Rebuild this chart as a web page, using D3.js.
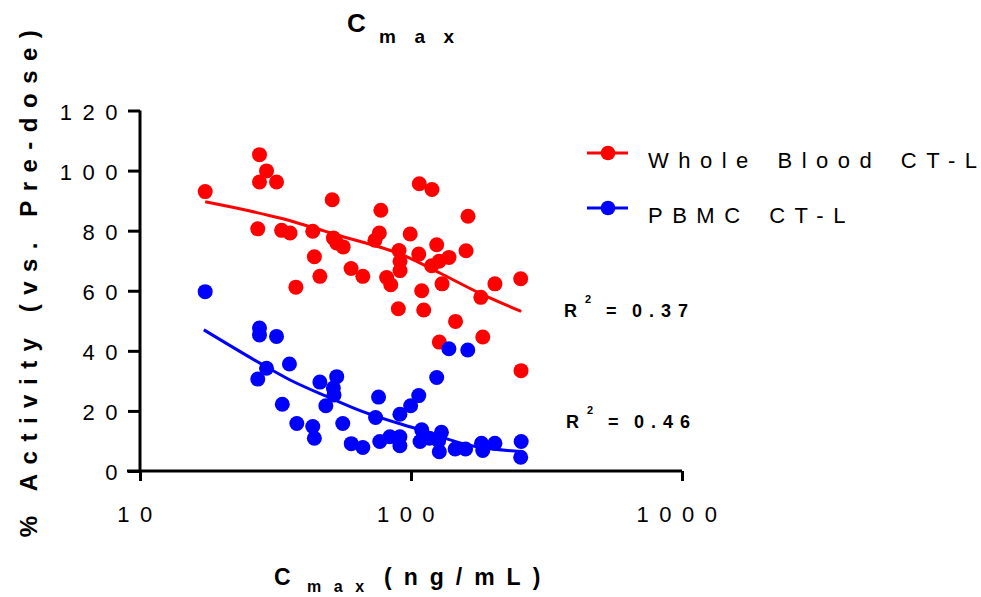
<!DOCTYPE html>
<html>
<head>
<meta charset="utf-8">
<script src="https://cdn.jsdelivr.net/npm/d3@7"></script>
<style>
  body { margin: 0; background: #fff; }
  text { font-family: "Liberation Sans", Arial, sans-serif; }
</style>
</head>
<body>
<script>
//=========================== data ============================================

var wbX = [17.4, 27.6, 29.3, 27.6, 31.9, 51.2, 27.2, 33.3, 35.8, 43.4, 51.7, 53.2, 56.2, 44.0, 60.1, 46.1,
           37.6, 107.3, 119.5, 77.4, 162.3, 76.4, 99.3, 73.6, 124.4, 159.6, 90.3, 106.8, 138.1, 126.9, 119.2,
           91.1, 91.1, 66.4, 81.3, 84.2, 130.2, 109.5, 204, 254, 181, 89.8, 111.4, 146, 184, 127.2, 254.7];
var wbY = [93.0, 105.3, 99.9, 96.2, 96.2, 90.3, 80.6, 80.1, 79.2, 79.8, 77.6, 75.9, 74.6, 71.3, 67.4, 64.8,
           61.2, 95.6, 93.7, 86.8, 84.8, 79.2, 78.9, 76.8, 75.3, 73.3, 73.4, 72.2, 71.1, 69.8, 68.3,
           69.8, 66.7, 64.8, 64.4, 62.0, 62.3, 60.0, 62.3, 64.0, 57.8, 54.0, 53.6, 49.8, 44.6, 42.9, 33.4];

var pbmcX = [17.4, 27.6, 27.6, 31.9, 29.3, 35.6, 27.2, 46.1, 53.2, 51.7, 52, 48.5, 33.5, 37.9, 43.4, 44,
             56, 60.2, 66.4, 75.9, 74, 76.7, 83.6, 91, 91, 91, 99.7, 106.8, 124.4, 109.5, 108, 117,
             129.5, 126.5, 127.2, 145.5, 159, 182, 184, 204, 255, 254, 138, 162];
var pbmcY = [59.7, 47.6, 45.3, 44.8, 34.2, 35.6, 30.6, 29.6, 31.4, 27.6, 25.3, 21.7, 22.2, 15.8, 14.8, 10.9,
             15.8, 9.1, 7.8, 24.6, 17.8, 9.8, 11.4, 11.4, 8.4, 18.9, 21.7, 25.1, 31.1, 13.7, 9.8, 10.9,
             12.9, 10.1, 6.4, 7.3, 7.3, 9.2, 6.8, 9.2, 9.8, 4.6, 40.7, 40.3];

// fitted curves
var wbFitX = [17.4, 32.8, 54.7, 96.2, 127.8, 179, 255];
var wbFitY = [89.6, 84.2, 78.3, 71.4, 65.9, 59.2, 53.1];
var pbmcFitX = [17.2, 27.7, 35.8, 48.9, 64.9, 108, 169, 255];
var pbmcFitY = [47.0, 35.9, 30.3, 24.8, 20.1, 13.7, 8.3, 6.5];

var xTicks = [10, 100, 1000];
var yTicks = [0, 20, 40, 60, 80, 100, 120];
var seriesNames = ["Whole Blood CT-L", "PBMC CT-L"];
var seriesColors = ["#ff0000", "#0000ff"];
var r2Labels = ["0.37", "0.46"];

//=========================== chart ===========================================

var svg = d3.select("body").append("svg")
    .attr("width", 981)
    .attr("height", 597);

var x = d3.scaleLog().domain([10, 1000]).range([140, 682]);
var y = d3.scaleLinear().domain([0, 120]).range([471, 110.5]);

// axes
var xAxis = svg.append("g")
    .attr("transform", "translate(0,471)")
    .call(d3.axisBottom(x).tickValues(xTicks).tickSize(10).tickFormat(""));
xAxis.select(".domain").attr("d", "M127,0H682");
xAxis.selectAll("path, line").attr("stroke", "#000").attr("stroke-width", 3);

var yAxis = svg.append("g")
    .attr("transform", "translate(140,0)")
    .call(d3.axisLeft(y).tickValues(yTicks).tickSize(12).tickFormat(""));
yAxis.select(".domain").attr("d", "M0,110.5V472");
yAxis.selectAll("path, line").attr("stroke", "#000").attr("stroke-width", 3);

// tick labels
svg.selectAll(".xlab")
    .data(xTicks)
    .enter().append("text")
    .attr("x", d => x(d))
    .attr("y", 522)
    .attr("text-anchor", "middle")
    .attr("font-size", 22)
    .attr("letter-spacing", 10.5)
    .text(d => d);

svg.selectAll(".ylab")
    .data(yTicks)
    .enter().append("text")
    .attr("x", 128)
    .attr("y", d => y(d) + 9)
    .attr("text-anchor", "end")
    .attr("font-size", 22)
    .attr("letter-spacing", 10.5)
    .text(d => d);

// title
var title = svg.append("text")
    .attr("font-weight", "bold");
title.append("tspan").attr("x", 347).attr("y", 32).attr("font-size", 26).text("C");
title.append("tspan").attr("x", 379).attr("y", 43).attr("font-size", 19)
    .attr("letter-spacing", 18.5).text("max");

// x axis title
var xt = svg.append("text")
    .attr("font-weight", "bold");
xt.append("tspan").attr("x", 274).attr("y", 585).attr("font-size", 23).text("C");
xt.append("tspan").attr("x", 307).attr("y", 592).attr("font-size", 16)
    .attr("letter-spacing", 12.5).text("max");
xt.append("tspan").attr("x", 384).attr("y", 585).attr("font-size", 23)
    .attr("letter-spacing", 12).text("(ng/mL)");

// y axis title
svg.append("text")
    .attr("transform", "translate(37,279) rotate(-90)")
    .attr("text-anchor", "middle")
    .attr("font-weight", "bold")
    .attr("font-size", 24)
    .attr("letter-spacing", 9.5)
    .text("% Activity (vs. Pre-dose)");

// fit lines
var line = d3.line()
    .x(d => x(d[0]))
    .y(d => y(d[1]))
    .curve(d3.curveMonotoneX);

var fits = [d3.zip(wbFitX, wbFitY), d3.zip(pbmcFitX, pbmcFitY)];
var pts = [d3.zip(wbX, wbY), d3.zip(pbmcX, pbmcY)];

pts.forEach(function(p, i) {
    svg.append("g").selectAll("circle")
        .data(p)
        .enter().append("circle")
        .attr("cx", d => x(d[0]))
        .attr("cy", d => y(d[1]))
        .attr("r", 7.5)
        .attr("fill", seriesColors[i]);
    svg.append("path")
        .datum(fits[i])
        .attr("d", line)
        .attr("fill", "none")
        .attr("stroke", seriesColors[i])
        .attr("stroke-width", 3);
});

// legend
var legend = svg.selectAll(".legend")
    .data(seriesNames)
    .enter().append("g")
    .attr("transform", (d, i) => "translate(587," + (153 + i * 55) + ")");
legend.append("line")
    .attr("x1", 0).attr("x2", 41)
    .attr("stroke", (d, i) => seriesColors[i])
    .attr("stroke-width", 3);
legend.append("circle")
    .attr("cx", 21).attr("r", 7.3)
    .attr("fill", (d, i) => seriesColors[i]);
var legText = legend.append("text")
    .attr("x", 61).attr("y", 15)
    .attr("font-size", 22)
    .attr("word-spacing", 4);
// last letter without trailing spacing so the text ends at its glyph
legText.append("tspan")
    .attr("letter-spacing", 9.5)
    .text(d => d.slice(0, -1));
legText.append("tspan")
    .text(d => d.slice(-1));

// R squared
var r2 = svg.selectAll(".r2")
    .data(r2Labels)
    .enter().append("text")
    .attr("font-weight", "bold")
    .attr("font-size", 18);
r2.append("tspan")
    .attr("x", (d, i) => 564 + i * 2)
    .attr("y", (d, i) => i == 0 ? 317 : 428)
    .text("R");
r2.append("tspan")
    .attr("x", (d, i) => 585 + i * 2)
    .attr("y", (d, i) => i == 0 ? 303 : 414)
    .attr("font-size", 11)
    .text("2");
r2.append("tspan")
    .attr("x", (d, i) => 606 + i * 2)
    .attr("y", (d, i) => i == 0 ? 317 : 428)
    .text("=");
r2.append("tspan")
    .attr("x", (d, i) => 632 + i * 2)
    .attr("letter-spacing", 7)
    .text(d => d);
</script>
</body>
</html>
